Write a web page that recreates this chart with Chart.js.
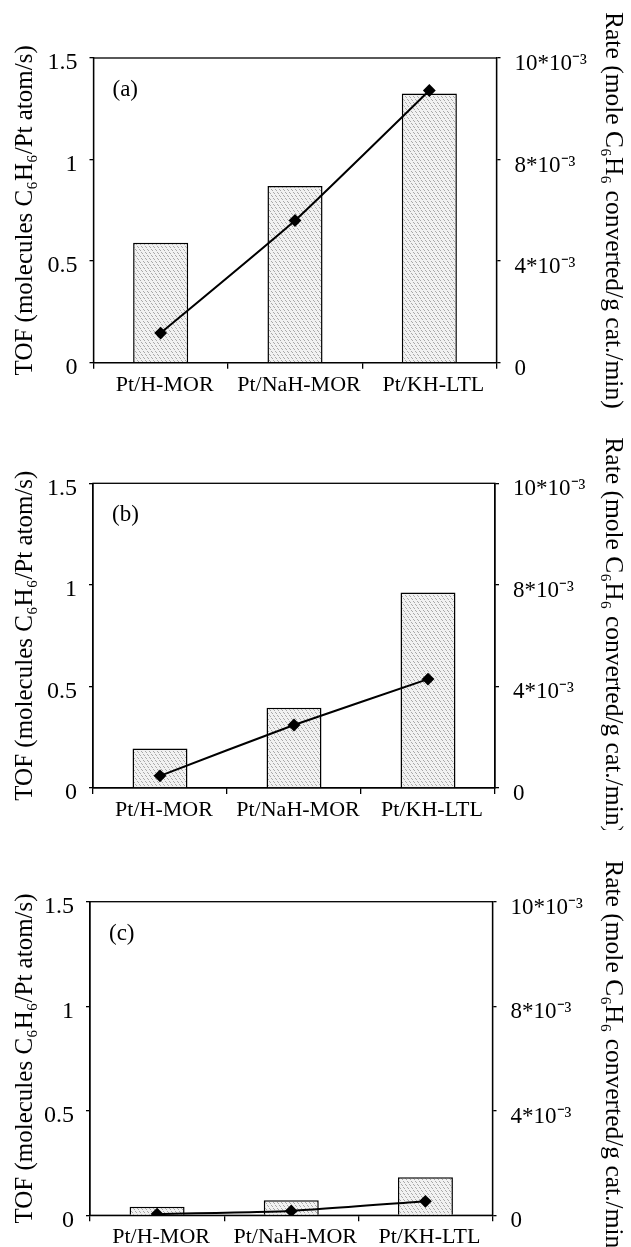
<!DOCTYPE html>
<html>
<head>
<meta charset="utf-8">
<script src="https://cdn.jsdelivr.net/npm/chart.js@4.4.1/dist/chart.umd.min.js"></script>
<style>
  html, body { margin: 0; padding: 0; background: #fff; }
  #wrap { position: relative; width: 631px; height: 1247px; }
  canvas { position: absolute; left: 0; }
</style>
</head>
<body>
<div id="wrap">
  <canvas id="chart-a" width="631" height="415" style="top:0px"></canvas>
  <canvas id="chart-b" width="631" height="415" style="top:415px"></canvas>
  <canvas id="chart-c" width="631" height="417" style="top:830px"></canvas>
</div>
<script>
const catalysts = ["Pt/H-MOR", "Pt/NaH-MOR", "Pt/KH-LTL"];
const panelLabels = ["(a)", "(b)", "(c)"];
//TOF, left axis
const tofA = [0.59, 0.87, 1.325];
const tofB = [0.195, 0.395, 0.963];
const tofC = [0.041, 0.072, 0.182];
//rate, read on the right axis grid (its labels sit at 0 / 0.5 / 1 / 1.5)
const rateA = [0.146, 0.70, 1.34];
const rateB = [0.06, 0.31, 0.536];
const rateC = [0.006, 0.021, 0.067];
const rightTickLabels = ["0", "4*10⁻³", "8*10⁻³", "10*10⁻³"];

const serif = "'Liberation Serif', 'Times New Roman', serif";

//dotted grey fill like the scanned bars
function makePattern() {
  const c = document.createElement("canvas");
  c.width = 8;
  c.height = 6;
  const g = c.getContext("2d");
  g.fillStyle = "#f1f1f1";
  g.fillRect(0, 0, 8, 6);
  g.fillStyle = "#a8a8a8";
  [[1, 0], [2, 1], [5, 0], [6, 1], [3, 3], [4, 4], [7, 3], [0, 4]].forEach(([x, y]) => g.fillRect(x, y, 1, 1));
  return g.createPattern(c, "repeat");
}
const barFill = makePattern();

//box round the plot area + panel letter
const framePlugin = {
  id: "frame",
  beforeDatasetsDraw(chart, args, opts) {
    const { ctx, chartArea: a } = chart;
    ctx.save();
    ctx.strokeStyle = "#000";
    ctx.lineWidth = 1.3;
    ctx.strokeRect(a.left, a.top, a.right - a.left, a.bottom - a.top);
    ctx.fillStyle = "#000";
    ctx.font = "23px " + serif;
    ctx.textBaseline = "middle";
    ctx.fillText(opts.label, a.left + 19, a.top + 32);
    ctx.restore();
  },
};

function makePanel(id, tof, rate, label, geo) {
  return new Chart(document.getElementById(id), {
    plugins: [framePlugin],
    data: {
      labels: catalysts,
      datasets: [
        {
          type: "line",
          data: rate,
          yAxisID: "y1",
          order: 0,
          borderColor: "#000",
          borderWidth: 2,
          tension: 0.15,
          pointStyle: "rectRot",
          pointRadius: 5,
          pointBackgroundColor: "#000",
          pointBorderColor: "#000",
        },
        {
          type: "bar",
          data: tof,
          yAxisID: "y",
          order: 1,
          backgroundColor: barFill,
          borderColor: "#000",
          borderWidth: 1.5,
          barPercentage: 0.41,
          categoryPercentage: 1,
        },
      ],
    },
    options: {
      responsive: false,
      animation: false,
      layout: { padding: { top: geo.top, left: 0, right: 0, bottom: 0 } },
      plugins: {
        legend: { display: false },
        tooltip: { enabled: false },
        frame: { label: label },
      },
      scales: {
        x: {
          offset: true,
          afterFit: (s) => { s.height = geo.xh; },
          grid: { offset: true, drawOnChartArea: false, tickLength: 6, color: "#000", lineWidth: 1.3 },
          border: { color: "#000", width: 1.3 },
          ticks: { color: "#000", padding: 3, labelOffset: 4, font: { family: serif, size: 22 } },
        },
        y: {
          position: "left",
          min: 0,
          max: 1.5,
          afterFit: (s) => { s.width = geo.lw; },
          grid: { drawOnChartArea: false, tickLength: 4, color: "#000", lineWidth: 1.3 },
          border: { color: "#000", width: 1.3 },
          ticks: {
            stepSize: 0.5,
            color: "#000",
            padding: 12,
            labelOffset: 5,
            font: { family: serif, size: 24 },
            callback: (v) => String(v),
          },
          title: {
            display: true,
            text: "TOF (molecules C₆H₆/Pt atom/s)",
            color: "#000",
            padding: { top: 10, bottom: 0 },
            font: { family: serif, size: 25 },
          },
        },
        y1: {
          position: "right",
          min: 0,
          max: 1.5,
          afterFit: (s) => { s.width = geo.rw; },
          grid: { drawOnChartArea: false, tickLength: 4, color: "#000", lineWidth: 1.3 },
          border: { color: "#000", width: 1.3 },
          ticks: {
            stepSize: 0.5,
            color: "#000",
            padding: 14,
            labelOffset: 6,
            font: { family: serif, size: 23 },
            callback: (v, i) => rightTickLabels[i],
          },
          title: {
            display: true,
            text: "Rate (mole C₆H₆ converted/g cat./min)",
            color: "#000",
            padding: { top: 3, bottom: 0 },
            font: { family: serif, size: 25.5 },
          },
        },
      },
    },
  });
}

makePanel("chart-a", tofA, rateA, panelLabels[0], { top: 58, xh: 52.3, lw: 93.5, rw: 134.5 });
makePanel("chart-b", tofB, rateB, panelLabels[1], { top: 68.3, xh: 42, lw: 93, rw: 136 });
makePanel("chart-c", tofC, rateC, panelLabels[2], { top: 71.7, xh: 31.7, lw: 90, rw: 138.5 });
</script>
</body>
</html>
